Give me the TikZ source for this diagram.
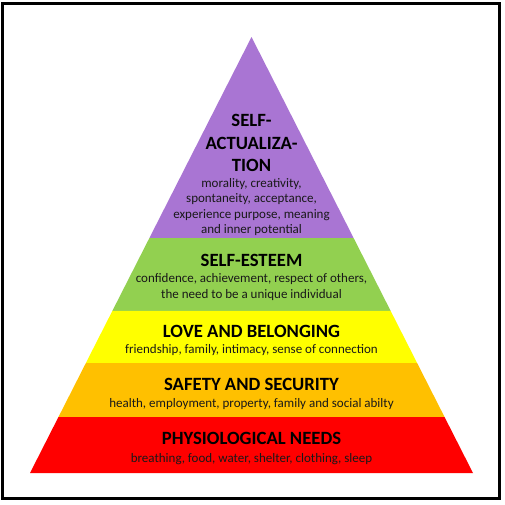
\documentclass[tikz,border=0pt]{standalone}
\usepackage{fontspec}
\setmainfont{Carlito}
\usetikzlibrary{positioning,calc}

\definecolor{actpurple}{RGB}{169,117,211}
\definecolor{esteemgreen}{RGB}{146,208,80}
\definecolor{loveyellow}{RGB}{255,255,0}
\definecolor{safeorange}{RGB}{255,192,0}
\definecolor{physred}{RGB}{255,0,0}

\begin{document}
\begin{tikzpicture}[x=1pt, y=-1pt,
  title/.style={font=\bfseries\fontsize{18.7}{22.5}\selectfont, align=center, inner sep=0pt},
  sub/.style={font=\fontsize{13}{15.2}\selectfont, align=center, inner sep=0pt, text=black!90}]

  \useasboundingbox (0,0) rectangle (505,504);
  \draw[line width=3pt] (2.5,3.5) rectangle (499.5,498.5);

  % pyramid corners and band edges
  \coordinate (apex) at (251.5,37);
  \coordinate (bl) at (30,473);
  \coordinate (br) at (473,473);
  \coordinate (l1) at ($(apex)!0.461!(bl)$);
  \coordinate (r1) at ($(apex)!0.461!(br)$);
  \coordinate (l2) at ($(apex)!0.628!(bl)$);
  \coordinate (r2) at ($(apex)!0.628!(br)$);
  \coordinate (l3) at ($(apex)!0.748!(bl)$);
  \coordinate (r3) at ($(apex)!0.748!(br)$);
  \coordinate (l4) at ($(apex)!0.872!(bl)$);
  \coordinate (r4) at ($(apex)!0.872!(br)$);

  \fill[actpurple] (apex) -- (l1) -- (r1) -- cycle;
  \fill[esteemgreen] (l1) -- (l2) -- (r2) -- (r1) -- cycle;
  \fill[loveyellow] (l2) -- (l3) -- (r3) -- (r2) -- cycle;
  \fill[safeorange] (l3) -- (l4) -- (r4) -- (r3) -- cycle;
  \fill[physred] (l4) -- (bl) -- (br) -- (r4) -- cycle;

  \node[title] (act) at (251.5,143) {SELF-\\ACTUALIZA-\\TION};
  \node[sub] (actsub) at (251.5,207) {morality, creativity,\\spontaneity, acceptance,\\experience purpose, meaning\\and inner potential};

  \node[title] (esteem) at (251.5,260) {SELF-ESTEEM};
  \node[sub] (esteemsub) at (251.5,287) {confidence, achievement, respect of others,\\the need to be a unique individual};

  \node[title] (love) at (251.5,331) {LOVE AND BELONGING};
  \node[sub] (lovesub) at (251.5,350) {friendship, family, intimacy, sense of connection};

  \node[title] (safe) at (251.5,384) {SAFETY AND SECURITY};
  \node[sub] (safesub) at (251.5,404) {health, employment, property, family and social abilty};

  \node[title] (phys) at (251.5,438) {PHYSIOLOGICAL NEEDS};
  \node[sub] (physsub) at (251.5,459) {breathing, food, water, shelter, clothing, sleep};
\end{tikzpicture}
\end{document}
